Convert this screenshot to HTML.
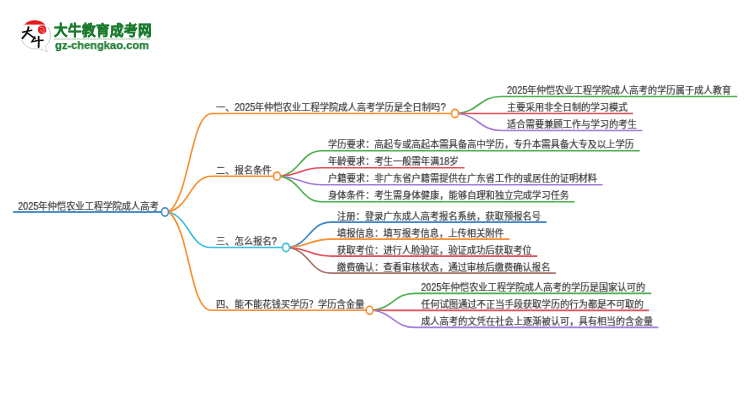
<!DOCTYPE html>
<html lang="zh-CN"><head><meta charset="utf-8"><style>
html,body{margin:0;padding:0;background:#fff;width:750px;height:410px;overflow:hidden;position:relative;font-family:"Liberation Sans",sans-serif}
svg.m{position:absolute;left:0;top:0}
.d{display:inline-block;transform:scaleY(1.12);transform-origin:0 9.5px}
.t{position:absolute;white-space:nowrap;font-size:11px;line-height:11px;color:#333;transform:scale(0.843,0.86);letter-spacing:0px;transform-origin:0 0;will-change:transform;-webkit-text-stroke:0.2px #333}
</style></head><body>
<svg style="position:absolute;left:0;top:0" width="60" height="60" viewBox="0 0 60 60">
<defs><clipPath id="cc"><circle cx="34.8" cy="34.6" r="14.4"/></clipPath></defs>
<path d="M34.8,20.2 A14.4,14.4 0 0 0 21.6,40" fill="none" stroke="#ececec" stroke-width="0.8"/>
<path d="M21.6,40 A14.4,14.4 0 0 0 38.6,48.6" fill="none" stroke="#c9c9c9" stroke-width="0.9"/>
<path d="M38.6,48.6 L47.4,51.8 L45.2,46.6" fill="none" stroke="#cfcfcf" stroke-width="0.8" stroke-linejoin="round"/>
<path d="M47.8,27 A14.4,14.4 0 0 1 45.2,46.6" fill="none" stroke="#c2c2c2" stroke-width="0.9"/>
<rect x="20" y="19" width="30" height="5.6" fill="#e5191c" clip-path="url(#cc)"/>
<path d="M38.2,27.2 Q40.5,24.8 44.2,25.4 Q46.8,27.5 46.2,31.2 Q45,34.2 41.2,33.9 Q38.4,33.2 38,30.4 Z" fill="#e11b1d"/>
<path d="M40.2,27.6 L42.4,27.2 M43.6,28.4 L44.2,30.6 M40.4,30.4 L42.2,31.4 M42.8,32.4 L44.6,32" stroke="#f7c4c4" stroke-width="0.7" stroke-linecap="round"/>
<g stroke="#111" stroke-linecap="round" fill="none">
<path d="M22.6,32.2 Q27,31.2 31.8,30.2" stroke-width="1.4"/>
<path d="M28.6,27.2 Q27.6,33.6 22.4,38.2" stroke-width="1.9"/>
<path d="M27.6,33.2 Q31.5,36.2 35.2,38.6" stroke-width="1.6"/>
<path d="M34.8,36.8 Q33.4,39.4 31.8,41.8 Q34.6,41.4 36.6,40.6" stroke-width="1.4"/>
<path d="M36.2,40.6 Q39.6,40.2 43.2,40.2" stroke-width="1.4"/>
<path d="M38.6,36.6 Q39,41.5 38.6,47" stroke-width="1.8"/>
</g>
</svg>
<div style="position:absolute;left:54.3px;top:23.4px;font-family:'Liberation Sans',sans-serif;font-weight:bold;font-size:13.6px;line-height:16px;color:#1a7a2e;white-space:nowrap;will-change:transform;-webkit-text-stroke:0.5px #1a7a2e;letter-spacing:0">大牛教育成考网</div>
<div style="position:absolute;left:54px;top:38px;width:96px;height:1.8px;background:#d6e4d9"></div>
<div style="position:absolute;left:55px;top:38.6px;font-family:'Liberation Sans',sans-serif;font-weight:bold;font-size:11.3px;line-height:12px;color:#1a7a2e;white-space:nowrap;will-change:transform;-webkit-text-stroke:0.25px #1a7a2e;transform:scaleX(0.985);transform-origin:0 0">gz-chengkao.com</div>

<svg class="m" width="750" height="410" viewBox="0 0 750 410">
<path d="M13,212 L161.5,212" stroke="#4f92c8" stroke-width="2" fill="none"/>
<path d="M168.8,212 C190.40,195.25 190.40,113.5 212,113.5 L451.50,113.5" stroke="#f8902f" stroke-width="1.6" fill="none"/>
<path d="M458.5,113.5 C479.75,110.61 479.75,96.5 501,96.5 L737.2,96.5" stroke="#4fb04f" stroke-width="1.6" fill="none"/>
<path d="M458.5,113.5 C479.75,113.50 479.75,113.5 501,113.5 L633.1,113.5" stroke="#e2505c" stroke-width="1.6" fill="none"/>
<path d="M458.5,113.5 C479.75,116.39 479.75,130.5 501,130.5 L642.4,130.5" stroke="#a57ed8" stroke-width="1.6" fill="none"/>
<path d="M168.8,212 C190.40,205.91 190.40,176.2 212,176.2 L273.50,176.2" stroke="#f8902f" stroke-width="1.6" fill="none"/>
<path d="M280.5,176.2 C301.25,171.88 301.25,150.8 322,150.8 L639.6,150.8" stroke="#4fb04f" stroke-width="1.6" fill="none"/>
<path d="M280.5,176.2 C301.25,174.77 301.25,167.8 322,167.8 L464.5,167.8" stroke="#e2505c" stroke-width="1.6" fill="none"/>
<path d="M280.5,176.2 C301.25,177.66 301.25,184.8 322,184.8 L602.5,184.8" stroke="#a57ed8" stroke-width="1.6" fill="none"/>
<path d="M280.5,176.2 C301.25,180.55 301.25,201.8 322,201.8 L574.7,201.8" stroke="#4fb04f" stroke-width="1.6" fill="none"/>
<path d="M168.8,212 C189.90,218.03 189.90,247.5 211,247.5 L282.50,247.5" stroke="#3ec0dc" stroke-width="1.6" fill="none"/>
<path d="M289.5,247.5 C310.25,243.18 310.25,222.1 331.0,222.1 L546.6,222.1" stroke="#3f86c8" stroke-width="1.6" fill="none"/>
<path d="M289.5,247.5 C310.25,246.07 310.25,239.1 331.0,239.1 L509.5,239.1" stroke="#f8902f" stroke-width="1.6" fill="none"/>
<path d="M289.5,247.5 C310.25,248.96 310.25,256.1 331.0,256.1 L537.3,256.1" stroke="#e2505c" stroke-width="1.6" fill="none"/>
<path d="M289.5,247.5 C310.25,251.85 310.25,273.1 331.0,273.1 L555.9,273.1" stroke="#a8766a" stroke-width="1.6" fill="none"/>
<path d="M168.8,212 C189.90,228.71 189.90,310.3 211,310.3 L366.10,310.3" stroke="#f8902f" stroke-width="1.6" fill="none"/>
<path d="M373.1,310.3 C394.05,307.43 394.05,293.4 415,293.4 L651.2,293.4" stroke="#4fb04f" stroke-width="1.6" fill="none"/>
<path d="M373.1,310.3 C394.05,310.32 394.05,310.4 415,310.4 L649.1,310.4" stroke="#e2505c" stroke-width="1.6" fill="none"/>
<path d="M373.1,310.3 C394.05,313.21 394.05,327.4 415,327.4 L658.4,327.4" stroke="#a57ed8" stroke-width="1.6" fill="none"/>
<ellipse cx="455" cy="113.5" rx="3.5" ry="4.1" stroke="#f8902f" stroke-width="1.6" fill="#fff"/>
<ellipse cx="277" cy="176.2" rx="3.5" ry="4.1" stroke="#f8902f" stroke-width="1.6" fill="#fff"/>
<ellipse cx="286" cy="247.5" rx="3.5" ry="4.1" stroke="#3ec0dc" stroke-width="1.6" fill="#fff"/>
<ellipse cx="369.6" cy="310.3" rx="3.5" ry="4.1" stroke="#f8902f" stroke-width="1.6" fill="#fff"/>
<ellipse cx="165" cy="212" rx="3.5" ry="4.1" stroke="#4f92c8" stroke-width="1.6" fill="#fff"/>
</svg>
<div class="t" style="left:18.30px;top:201.52px"><span class="d">2025</span>年仲恺农业工程学院成人高考</div>
<div class="t" style="left:216.30px;top:103.22px">一、<span class="d">2025</span>年仲恺农业工程学院成人高考学历是全日制吗<span class="d">?</span></div>
<div class="t" style="left:507.20px;top:86.02px"><span class="d">2025</span>年仲恺农业工程学院成人高考的学历属于成人教育</div>
<div class="t" style="left:507.20px;top:103.02px">主要采用非全日制的学习模式</div>
<div class="t" style="left:507.20px;top:120.02px">适合需要兼顾工作与学习的考生</div>
<div class="t" style="left:216.30px;top:165.92px">二、报名条件</div>
<div class="t" style="left:328.20px;top:140.32px">学历要求：高起专或高起本需具备高中学历，专升本需具备大专及以上学历</div>
<div class="t" style="left:328.20px;top:157.32px">年龄要求：考生一般需年满<span class="d">18</span>岁</div>
<div class="t" style="left:328.20px;top:174.32px">户籍要求：非广东省户籍需提供在广东省工作的或居住的证明材料</div>
<div class="t" style="left:328.20px;top:191.32px">身体条件：考生需身体健康，能够自理和独立完成学习任务</div>
<div class="t" style="left:216.30px;top:237.22px">三、怎么报名<span class="d">?</span></div>
<div class="t" style="left:337.20px;top:211.62px">注册：登录广东成人高考报名系统，获取预报名号</div>
<div class="t" style="left:337.20px;top:228.62px">填报信息：填写报考信息，上传相关附件</div>
<div class="t" style="left:337.20px;top:245.62px">获取考位：进行人脸验证，验证成功后获取考位</div>
<div class="t" style="left:337.20px;top:262.62px">缴费确认：查看审核状态，通过审核后缴费确认报名</div>
<div class="t" style="left:215.80px;top:300.02px">四、能不能花钱买学历？学历含金量</div>
<div class="t" style="left:421.20px;top:282.92px"><span class="d">2025</span>年仲恺农业工程学院成人高考的学历是国家认可的</div>
<div class="t" style="left:421.20px;top:299.92px">任何试图通过不正当手段获取学历的行为都是不可取的</div>
<div class="t" style="left:421.20px;top:316.92px">成人高考的文凭在社会上逐渐被认可，具有相当的含金量</div>
</body></html>
